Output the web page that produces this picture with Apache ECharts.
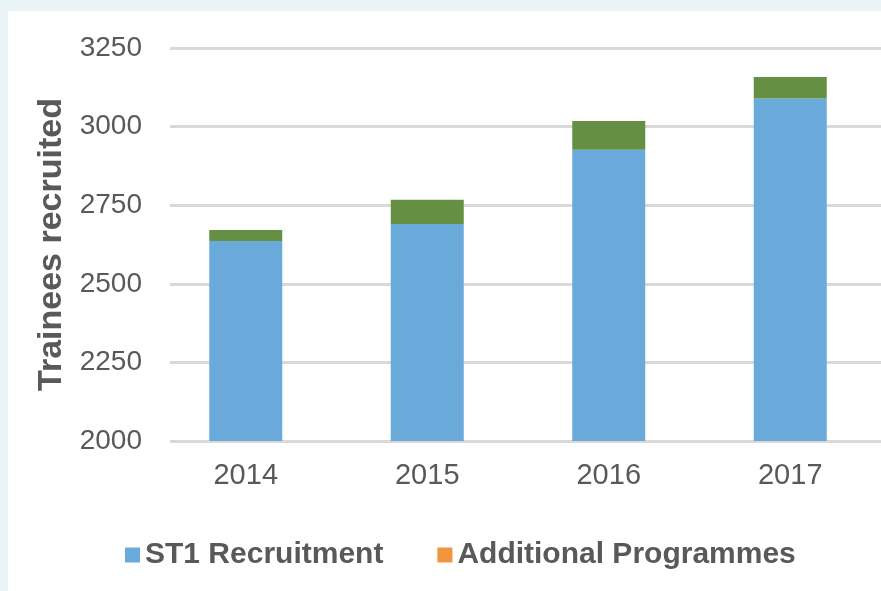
<!DOCTYPE html>
<html><head><meta charset="utf-8">
<script src="https://cdn.jsdelivr.net/npm/echarts@6/dist/echarts.min.js"></script>
<style>
html,body{margin:0;padding:0;background:#eaf3f5;}
#panel{position:absolute;left:8px;top:11px;width:873px;height:580px;background:#fff;}
#chart{position:absolute;left:0;top:0;width:881px;height:591px;}
</style></head>
<body><div id="panel"></div><div id="chart"></div>
<script>
const years = ['2014','2015','2016','2017'];
const st1Recruitment = [2636, 2690, 2926, 3089];
const additionalProgrammes = [35, 77, 92, 69];
const yTicks = {min: 2000, max: 3250, interval: 250};
const seriesNames = ['ST1 Recruitment', 'Additional Programmes'];

const font = 'Liberation Sans, Arial, sans-serif';
const txt = '#595959';
const chart = echarts.init(document.getElementById('chart'), null, {renderer:'canvas'});
chart.setOption({
  animation:false,
  backgroundColor:'transparent',
  textStyle:{fontFamily:font},
  grid:[
    {left:170, right:0, top:48, bottom:150},
    {left:155, width:739, top:48, bottom:150}
  ],
  xAxis:[
    {gridIndex:0, type:'value', show:false},
    {gridIndex:1, type:'category', data:years,
     axisLine:{show:false}, axisTick:{show:false},
     axisLabel:{fontSize:29, color:txt, margin:20, fontFamily:font}}
  ],
  yAxis:[
    {gridIndex:0, type:'value', min:yTicks.min, max:yTicks.max, interval:yTicks.interval,
     axisLine:{show:false}, axisTick:{show:false},
     axisLabel:{fontSize:28, color:txt, margin:28, fontFamily:font, formatter:(v)=>String(v)},
     splitLine:{lineStyle:{color:'#d9d9d9', width:3}},
     name:'Trainees recruited', nameLocation:'middle', nameGap:100, nameRotate:90,
     nameTextStyle:{fontSize:34, fontWeight:'bold', color:txt, fontFamily:font}},
    {gridIndex:1, type:'value', min:yTicks.min, max:yTicks.max, interval:yTicks.interval, show:false, splitLine:{show:false}}
  ],
  legend:{
    left:120, top:535, itemWidth:15, itemHeight:15, itemGap:54, icon:'rect',
    textStyle:{fontSize:30, fontWeight:'bold', color:txt, fontFamily:font},
    data:[
      {name:seriesNames[0], itemStyle:{color:'#6aaadb'}},
      {name:seriesNames[1], itemStyle:{color:'#f29440'}}
    ]
  },
  series:[
    {name:seriesNames[0], type:'bar', xAxisIndex:1, yAxisIndex:1, stack:'t', barWidth:73,
     itemStyle:{color:'#6aaadb'}, data:st1Recruitment, z:3},
    {name:seriesNames[1], type:'bar', xAxisIndex:1, yAxisIndex:1, stack:'t', barWidth:73,
     itemStyle:{color:'#659044'}, data:additionalProgrammes, z:3}
  ]
});
</script></body></html>
